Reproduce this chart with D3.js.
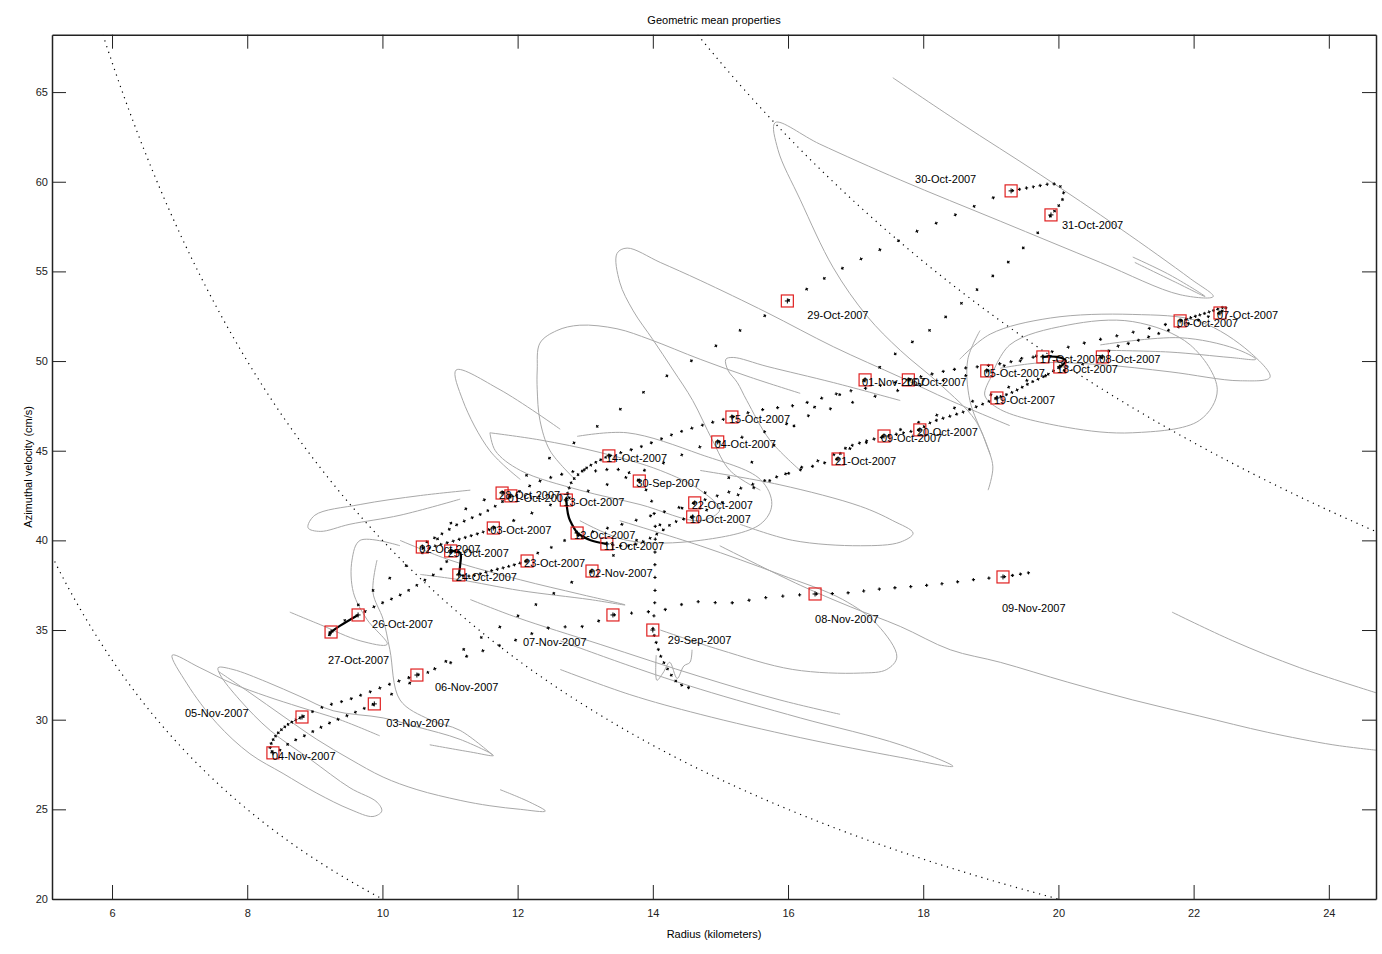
<!DOCTYPE html>
<html>
<head>
<meta charset="utf-8">
<script src="https://d3js.org/d3.v7.min.js"></script>
<style>
    body { margin: 0; background-color: white; }
    text { font-family: "Liberation Sans", Arial, sans-serif; }
    .tick text { font-size: 11px; fill: #222; }
    .tick line { stroke: #222; }
    .domain { stroke: #222; stroke-width: 1.5px; }
    .loop { fill: none; stroke: #a8a8a8; stroke-width: 1px; }
    .iso { fill: none; stroke: #000; stroke-width: 1.2px; stroke-dasharray: 1.2 4.8; }
    .leg { fill: none; stroke: #000; }
    .day-box { fill: none; stroke: #e02020; stroke-width: 1.2px; }
    .day-plus { stroke: #000; stroke-width: 1px; }
    .day-label { font-size: 11px; fill: #000; }
    .title, .axis-label { font-size: 11px; fill: #000; }
</style>
</head>
<body>
<script>
// daily positions: [radius (km), azimuthal velocity (cm/s)]
const dayLabels = [
    '29-Sep-2007', '30-Sep-2007',
    '01-Oct-2007', '02-Oct-2007', '03-Oct-2007', '04-Oct-2007', '05-Oct-2007', '06-Oct-2007', '07-Oct-2007',
    '08-Oct-2007', '09-Oct-2007', '10-Oct-2007', '11-Oct-2007', '12-Oct-2007', '13-Oct-2007', '14-Oct-2007',
    '15-Oct-2007', '16-Oct-2007', '17-Oct-2007', '18-Oct-2007', '19-Oct-2007', '20-Oct-2007', '21-Oct-2007',
    '22-Oct-2007', '23-Oct-2007', '24-Oct-2007', '25-Oct-2007', '26-Oct-2007', '27-Oct-2007', '28-Oct-2007',
    '29-Oct-2007', '30-Oct-2007', '31-Oct-2007',
    '01-Nov-2007', '02-Nov-2007', '03-Nov-2007', '04-Nov-2007', '05-Nov-2007', '06-Nov-2007', '07-Nov-2007',
    '08-Nov-2007', '09-Nov-2007'
];
const dayPos = [
    [14.00, 35.00], [13.80, 43.31],
    [11.90, 42.48], [10.59, 39.63], [11.64, 40.69], [14.96, 45.49], [18.94, 49.45], [21.80, 52.24], [22.39, 52.68],
    [20.65, 50.23], [17.42, 45.82], [14.59, 41.31], [13.32, 39.80], [12.88, 40.41], [12.72, 42.25], [13.35, 44.71],
    [15.17, 46.88], [17.78, 48.95], [19.77, 50.23], [20.02, 49.67], [19.09, 47.94], [17.95, 46.16], [16.74, 44.54],
    [14.62, 42.09], [12.14, 38.85], [11.13, 38.07], [11.01, 39.41], [9.64, 35.84], [9.24, 34.89], [11.77, 42.64],
    [15.99, 53.35], [19.30, 59.49], [19.89, 58.15],
    [17.14, 48.95], [13.10, 38.29], [9.88, 30.88], [8.38, 28.15], [8.81, 30.15], [10.51, 32.49], [13.41, 35.84],
    [16.40, 37.01], [19.18, 37.96]
];

// intermediate track points between day i and day i+1
const legMid = [
    [[14.03, 36.68], [14.03, 38.91], [14.03, 41.14], [13.96, 42.42]],
    [[13.63, 43.81], [13.40, 43.98], [13.19, 43.87], [12.97, 43.93], [12.73, 43.76], [12.52, 43.54], [12.33, 43.31]],
    [[11.55, 41.64], [11.15, 40.97], [10.85, 40.30], [10.64, 39.86]],
    [[10.62, 39.52], [10.78, 39.69], [11.00, 39.91], [11.25, 40.19], [11.49, 40.47]],
    [[12.04, 41.25], [12.63, 42.20], [13.35, 43.15], [13.81, 43.81], [14.30, 44.54], [14.65, 45.15]],
    [[15.59, 45.99], [16.33, 46.99], [16.92, 47.66], [17.66, 48.39], [18.40, 49.00]],
    [[19.58, 50.17], [20.32, 50.95], [21.06, 51.57], [21.55, 52.01]],
    [[22.09, 52.57], [22.32, 52.85], [22.48, 53.02]],
    [[22.20, 52.46], [21.95, 52.13], [21.55, 51.62], [21.06, 51.01], [20.81, 50.73]],
    [[20.02, 49.39], [19.46, 48.83], [18.99, 48.11], [18.54, 47.50], [18.10, 46.83]],
    [[16.74, 44.87], [16.03, 43.81], [15.29, 42.59]],
    [[14.33, 41.03], [14.11, 40.47], [13.88, 39.97], [13.63, 39.69]],
    [[13.07, 40.02]],
    [[12.76, 41.25]],
    [[12.80, 43.26], [13.04, 44.09]],
    [[13.81, 45.21], [14.40, 46.05]],
    [[15.59, 47.27], [16.13, 47.55], [16.77, 48.22], [17.17, 48.50]],
    [[18.40, 49.50], [18.91, 49.73], [19.28, 49.95], [19.48, 50.17]],
    [[19.98, 50.23], [20.11, 50.01]],
    [[19.83, 49.23], [19.58, 48.78], [19.33, 48.28]],
    [[18.59, 47.16], [18.10, 46.55]],
    [[17.70, 45.99], [17.11, 45.49], [16.81, 45.03]],
    [[16.18, 43.93], [15.59, 43.26], [14.99, 42.53]],
    [[14.11, 41.53], [13.51, 40.86], [12.78, 40.13], [12.48, 39.58], [12.30, 39.30]],
    [[11.89, 38.57], [11.59, 38.29], [11.30, 38.01]],
    [[11.15, 38.63], [11.15, 39.30]],
    [[10.91, 38.57], [10.56, 37.62], [10.26, 36.95], [9.96, 36.45]],
    [[9.37, 35.23]],
    [[9.11, 34.39], [9.45, 35.56], [9.71, 36.68], [9.96, 37.51], [10.22, 38.18], [10.45, 38.91], [10.70, 39.63], [10.93, 40.58], [11.15, 41.53], [11.40, 42.09]],
    [[12.08, 43.48], [12.43, 44.48], [12.97, 45.77], [13.32, 46.77], [13.69, 47.78], [14.03, 48.72], [14.39, 49.62], [14.77, 50.45], [15.13, 51.34], [15.48, 52.13], [15.82, 52.91]],
    [[16.33, 54.13], [16.65, 54.86], [16.96, 55.47], [17.29, 56.08], [17.57, 56.59], [17.85, 57.14], [18.13, 57.59], [18.40, 58.04], [18.65, 58.43], [18.88, 58.87], [19.14, 59.26]],
    [[19.62, 59.71], [19.92, 59.88], [20.02, 59.77], [20.08, 59.26], [19.99, 58.59]],
    [[19.73, 57.31], [19.48, 56.31], [19.18, 55.25], [18.84, 54.13], [18.47, 52.91], [18.06, 51.62], [17.66, 50.62], [17.43, 49.89]],
    [[16.81, 48.22], [16.33, 47.27], [15.96, 45.88], [15.62, 44.76], [15.29, 43.93], [14.92, 42.98], [14.59, 42.25], [14.25, 41.25], [13.88, 40.30], [13.47, 39.30]],
    [[12.73, 37.51], [12.43, 36.79], [12.14, 36.12], [11.84, 35.39], [11.52, 34.72], [11.19, 33.89], [10.81, 32.94], [10.53, 32.33], [10.19, 31.54]],
    [[9.57, 30.37], [9.22, 29.82], [8.93, 29.26], [8.63, 28.70], [8.44, 28.20]],
    [[8.34, 28.42], [8.41, 29.04], [8.59, 29.70]],
    [[9.12, 30.71], [9.48, 31.10], [9.77, 31.49], [10.16, 32.05]],
    [[10.85, 32.94], [11.30, 33.61], [11.89, 34.33], [12.52, 35.17], [12.92, 35.17]],
    [[13.71, 35.95], [14.15, 36.12], [14.59, 36.56], [15.14, 36.51], [15.63, 36.79], [16.13, 36.95]],
    [[16.87, 37.07], [17.36, 37.29], [17.95, 37.46], [18.37, 37.62], [18.84, 37.85]]
];
const trackHead = [[14.55, 31.77], [14.37, 32.05], [14.21, 32.88], [14.11, 33.61]];
const trackTail = [[19.54, 38.18], [19.65, 38.24]];
const samplesPerDay = 12, headSamples = 10, tailSamples = 4;

// instantaneous (unaveraged) loops, grey
const loops = [
    [[17.55, 65.8], [18.54, 63.3], [19.73, 60.4], [20.91, 57.4], [21.95, 54.6], [22.29, 53.6], [21.80, 53.7], [20.62, 55.5], [19.14, 57.8], [17.66, 60.1], [16.47, 62.1], [15.81, 63.3], [15.85, 61.8], [16.18, 59.0], [16.67, 55.2], [17.17, 52.5], [17.66, 50.6], [18.25, 48.7], [18.77, 46.7], [18.99, 44.8]],
    [[21.10, 55.8], [21.65, 54.8], [22.17, 53.6], [21.73, 54.4], [21.13, 55.5]],
    [[19.28, 46.4], [18.40, 47.8], [17.66, 49.1], [16.67, 50.8], [15.69, 52.7], [14.70, 54.5], [14.11, 55.5], [13.62, 56.3], [13.47, 56.0], [13.51, 54.4], [13.71, 52.8], [14.00, 51.2], [14.30, 49.5], [14.59, 47.8], [14.88, 45.6], [15.14, 43.9], [15.59, 42.8]],
    [[16.18, 48.2], [15.44, 49.1], [14.70, 50.1], [13.96, 51.2], [13.47, 51.8], [12.92, 52.0], [12.58, 51.7], [12.33, 51.0], [12.29, 49.5], [12.29, 48.4], [12.33, 46.7], [12.48, 45.0], [12.85, 43.4]],
    [[12.63, 46.2], [11.74, 48.4], [11.09, 49.5], [11.19, 47.8], [11.59, 45.0], [12.04, 43.4]],
    [[17.66, 47.8], [16.67, 48.8], [15.69, 49.7], [15.19, 50.2], [15.08, 50.1], [15.11, 49.5], [15.25, 48.8], [15.39, 47.8], [15.73, 45.6], [16.18, 43.9]],
    [[18.99, 49.0], [19.28, 50.9], [20.13, 52.0], [21.10, 52.2], [21.95, 50.9], [22.35, 48.4], [22.09, 46.7], [21.10, 46.0], [20.13, 46.3], [19.14, 47.3], [18.91, 48.1], [18.99, 49.0]],
    [[18.54, 50.1], [18.99, 51.5], [19.88, 52.4], [21.10, 52.6], [22.09, 52.2], [22.83, 50.5], [23.13, 49.1], [22.69, 48.9], [21.65, 49.4], [20.62, 49.8], [19.73, 49.9], [19.14, 49.6]],
    [[20.62, 50.9], [21.80, 51.3], [22.61, 50.7], [22.92, 50.1], [22.54, 50.2], [21.65, 50.5], [20.62, 50.6]],
    [[18.84, 51.7], [18.66, 50.1], [18.69, 47.8], [18.91, 45.6], [19.03, 44.1], [18.96, 42.8]],
    [[9.96, 29.1], [9.37, 30.0], [8.78, 30.7], [8.29, 31.3], [7.79, 32.0], [7.30, 32.9], [6.89, 33.6], [7.11, 32.0], [7.55, 29.8], [8.04, 28.1], [8.53, 27.0], [9.03, 25.9], [9.52, 25.0], [9.86, 24.6], [9.99, 24.9], [9.92, 25.4], [9.52, 26.2], [8.93, 27.8], [8.34, 29.4], [7.89, 31.1], [7.60, 32.5], [7.57, 32.9], [7.79, 32.8], [8.29, 32.1], [8.78, 31.3], [9.27, 30.5], [10.01, 30.1], [10.51, 29.6], [11.15, 28.9], [11.64, 28.0], [11.30, 28.2], [10.70, 28.6]],
    [[7.57, 32.7], [8.04, 31.5], [8.53, 30.2], [9.03, 28.9], [9.52, 27.8], [10.01, 26.8], [10.51, 26.1], [11.15, 25.5], [11.59, 25.2], [12.04, 25.0], [12.41, 24.9], [12.18, 25.4], [11.74, 26.1]],
    [[11.30, 36.7], [11.99, 35.7], [13.22, 34.2], [14.70, 32.4], [15.88, 31.1], [16.77, 30.3]],
    [[14.99, 39.7], [16.18, 37.5], [16.92, 36.3], [17.66, 35.2], [18.40, 33.9], [19.14, 33.2], [20.13, 32.1], [21.10, 31.1], [22.09, 30.2], [23.09, 29.3], [24.06, 28.6], [24.70, 28.3]],
    [[21.68, 36.0], [22.58, 34.4], [23.57, 32.9], [24.70, 31.5]],
    [[12.63, 34.4], [13.66, 33.0], [14.70, 31.7], [16.18, 30.1], [17.66, 28.6], [18.44, 27.4], [17.66, 27.9], [16.18, 29.0], [14.70, 30.3], [13.66, 31.4], [12.63, 32.8]],
    [[13.51, 41.1], [14.70, 39.7], [15.88, 38.1], [16.81, 36.7], [17.32, 35.3], [17.61, 33.5], [17.46, 32.8], [17.07, 32.6], [16.07, 32.8], [14.99, 33.9], [14.11, 35.0]],
    [[14.05, 33.6], [14.06, 32.2], [14.15, 32.6], [14.25, 33.2], [14.36, 32.3], [14.46, 33.0], [14.55, 33.2], [14.58, 33.9]],
    [[11.59, 46.0], [12.33, 45.6], [13.22, 44.9], [14.11, 43.9], [14.70, 42.8], [14.99, 41.7], [14.70, 41.1], [13.81, 42.0], [12.92, 42.8], [12.04, 43.9], [11.67, 45.0], [11.59, 46.0]],
    [[12.88, 45.8], [13.62, 46.0], [14.70, 44.8], [15.59, 43.4], [15.76, 42.0], [15.59, 40.9], [14.70, 40.0], [13.62, 40.0], [12.92, 41.1]],
    [[14.70, 43.9], [15.88, 43.1], [17.07, 41.9], [17.55, 41.1], [17.85, 40.4], [17.66, 39.9], [17.07, 39.7], [16.07, 40.0], [15.29, 40.9]],
    [[10.26, 40.0], [11.00, 38.9], [12.04, 37.8], [12.92, 37.0], [13.59, 36.4], [13.07, 36.7], [12.04, 37.2], [11.15, 37.8], [10.56, 38.1]],
    [[11.15, 42.3], [10.26, 41.4], [9.52, 40.9], [9.08, 40.5], [8.90, 40.7], [9.00, 41.4], [9.67, 42.0], [10.56, 42.5], [11.30, 42.8]],
    [[10.26, 39.7], [9.67, 40.0], [9.55, 38.9], [9.57, 37.1], [9.77, 35.6], [10.07, 34.2], [9.67, 34.4], [9.08, 35.3], [8.63, 36.0]],
    [[9.92, 38.9], [9.86, 37.1], [10.01, 35.6], [10.11, 33.9], [10.26, 31.1], [10.70, 30.0], [11.15, 29.4], [11.64, 28.0]]
];

// constant r*v guide curves (km*cm/s)
const rvLevels = [200, 400, 1000];

const xTicks = [6, 8, 10, 12, 14, 16, 18, 20, 22, 24];
const yTicks = [20, 25, 30, 35, 40, 45, 50, 55, 60, 65];

const width = 1382, height = 954;
const plotLeft = 52, plotRight = 1376, plotTop = 34.7, plotBottom = 899;

const x = d3.scaleLinear().domain([5.112, 24.698]).range([plotLeft, plotRight]);
const y = d3.scaleLinear().domain([20, 68.2]).range([plotBottom, plotTop]);

// label offsets in px from the day marker (text start, text middle)
const labelNudge = {
    '29-Sep-2007': [15, 10], '26-Oct-2007': [14, 9], '27-Oct-2007': [-3, 28],
    '05-Nov-2007': [-117, -4], '04-Nov-2007': [-1, 3], '03-Nov-2007': [12, 19],
    '06-Nov-2007': [18, 12], '07-Nov-2007': [-90, 27], '08-Nov-2007': [0, 25],
    '09-Nov-2007': [-1, 31], '29-Oct-2007': [20, 14], '30-Oct-2007': [-96, -12],
    '31-Oct-2007': [11, 10]
};
const defaultNudge = [-3, 2];

const svg = d3.select('body').append('svg')
    .attr('width', width)
    .attr('height', height)
    .style('background-color', 'white');

svg.append('clipPath').attr('id', 'plot-area')
    .append('rect')
    .attr('x', plotLeft).attr('y', plotTop)
    .attr('width', plotRight - plotLeft).attr('height', plotBottom - plotTop);

const plot = svg.append('g').attr('clip-path', 'url(#plot-area)');

const smooth = d3.line()
    .x(d => x(d[0]))
    .y(d => y(d[1]))
    .curve(d3.curveCatmullRom.alpha(0.5));

// grey loops
plot.append('g')
    .selectAll('path')
    .data(loops)
    .join('path')
    .attr('class', 'loop')
    .attr('d', smooth);

// r*v = const dotted curves
const isoLine = d3.line().x(d => x(d[0])).y(d => y(d[1]));
plot.append('g')
    .selectAll('path')
    .data(rvLevels)
    .join('path')
    .attr('class', 'iso')
    .attr('d', L => {
        const r0 = Math.max(x.domain()[0], L / y.domain()[1]);
        const r1 = Math.min(x.domain()[1], L / y.domain()[0]);
        return isoLine(d3.range(r0, r1, 0.02).concat([r1]).map(r => [r, L / r]));
    });

// track, one leg per day; "+" marks drawn as two crossed dash patterns
const legs = legMid.map((mid, i) => ({ pts: [dayPos[i], ...mid, dayPos[i + 1]], n: samplesPerDay }));
legs.unshift({ pts: [...trackHead, dayPos[0]], n: headSamples });
legs.push({ pts: [dayPos[dayPos.length - 1], ...trackTail], n: tailSamples });

const arm = 3.2, bar = 1.1;
const trackG = plot.append('g');
legs.forEach(d => {
    const along = trackG.append('path').attr('class', 'leg').attr('d', smooth(d.pts));
    const period = along.node().getTotalLength() / d.n;
    if (period <= arm + 0.6) {
        along.attr('stroke-width', 2.2);
        return;
    }
    along.attr('stroke-width', bar)
        .attr('stroke-dasharray', `${arm} ${period - arm}`);
    trackG.append('path').attr('class', 'leg').attr('d', smooth(d.pts))
        .attr('stroke-width', arm)
        .attr('stroke-dasharray', `${bar} ${period - bar}`)
        .attr('stroke-dashoffset', -(arm - bar) / 2);
});

// daily markers
const days = dayPos.map((p, i) => ({ p, label: dayLabels[i] }));
const dayG = plot.append('g')
    .selectAll('g')
    .data(days)
    .join('g')
    .attr('transform', d => `translate(${x(d.p[0])},${y(d.p[1])})`);

dayG.append('path').attr('class', 'day-plus').attr('d', 'M-2.5,0H2.5M0,-2.5V2.5');
dayG.append('rect').attr('class', 'day-box')
    .attr('x', -6).attr('y', -6).attr('width', 12).attr('height', 12);

plot.append('g')
    .selectAll('text')
    .data(days)
    .join('text')
    .attr('class', 'day-label')
    .attr('x', d => x(d.p[0]) + (labelNudge[d.label] || defaultNudge)[0])
    .attr('y', d => y(d.p[1]) + (labelNudge[d.label] || defaultNudge)[1])
    .attr('dy', '0.35em')
    .text(d => d.label);

// axes, ticks inside on all four sides
svg.append('g')
    .attr('transform', `translate(0,${plotBottom})`)
    .call(d3.axisBottom(x).tickValues(xTicks).tickSize(-14).tickSizeOuter(0).tickPadding(10));
svg.append('g')
    .attr('transform', `translate(0,${plotTop})`)
    .call(d3.axisTop(x).tickValues(xTicks).tickSize(-14).tickSizeOuter(0).tickFormat(''));
svg.append('g')
    .attr('transform', `translate(${plotLeft},0)`)
    .call(d3.axisLeft(y).tickValues(yTicks).tickSize(-14).tickSizeOuter(0).tickPadding(4));
svg.append('g')
    .attr('transform', `translate(${plotRight},0)`)
    .call(d3.axisRight(y).tickValues(yTicks).tickSize(-14).tickSizeOuter(0).tickFormat(''));

svg.selectAll('.tick text').attr('font-family', null);

svg.append('text')
    .attr('class', 'title')
    .attr('x', (plotLeft + plotRight) / 2)
    .attr('y', 24)
    .attr('text-anchor', 'middle')
    .text('Geometric mean properties');

svg.append('text')
    .attr('class', 'axis-label')
    .attr('x', (plotLeft + plotRight) / 2)
    .attr('y', 938)
    .attr('text-anchor', 'middle')
    .text('Radius (kilometers)');

svg.append('text')
    .attr('class', 'axis-label')
    .attr('transform', `translate(32,${(plotTop + plotBottom) / 2}) rotate(-90)`)
    .attr('text-anchor', 'middle')
    .text('Azimuthal velocity (cm/s)');
</script>
</body>
</html>
